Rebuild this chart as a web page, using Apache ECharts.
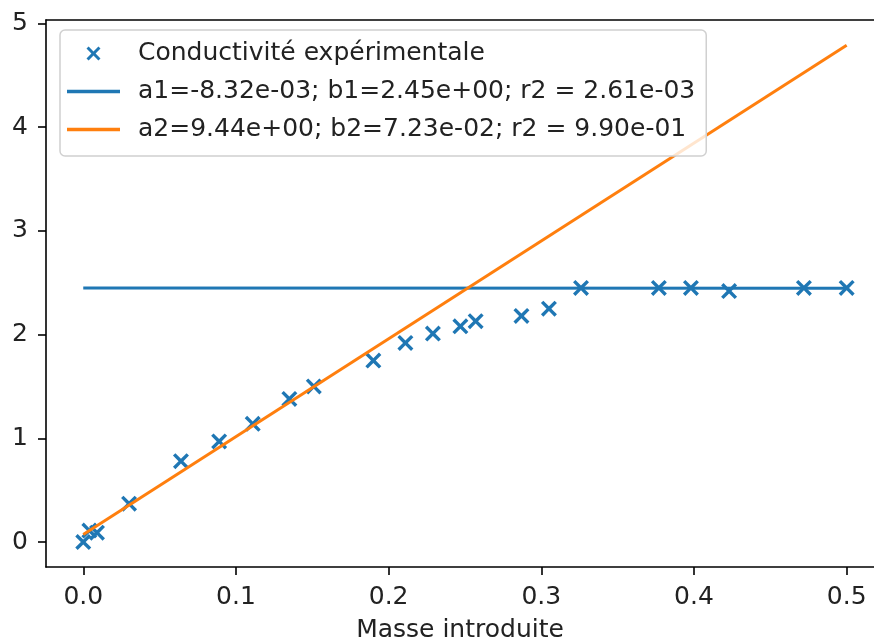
<!DOCTYPE html>
<html>
<head>
<meta charset="utf-8">
<script src="https://cdn.jsdelivr.net/npm/echarts@6/dist/echarts.min.js"></script>
<style>
  html, body { margin: 0; padding: 0; background: #fff; }
  #main { width: 874px; height: 642px; }
</style>
</head>
<body>
<div id="main"></div>
<script>
// measured points (masse, conductivite)
var masse = [0.0, 0.004, 0.009, 0.030, 0.064, 0.089, 0.111, 0.135, 0.151, 0.190, 0.211,
             0.229, 0.247, 0.257, 0.287, 0.305, 0.326, 0.377, 0.398, 0.423, 0.472, 0.500];
var conduct = [0.0, 0.11, 0.09, 0.37, 0.78, 0.97, 1.14, 1.38, 1.50, 1.75, 1.92,
               2.01, 2.08, 2.13, 2.18, 2.25, 2.45, 2.45, 2.45, 2.42, 2.45, 2.45];

// fitted lines, end points
var fitX = [0.0, 0.5];
var fit1Y = [2.45, 2.446];
var fit2Y = [0.072, 4.79];

var xTicks = [0, 0.1, 0.2, 0.3, 0.4, 0.5];
var yTicks = [0, 1, 2, 3, 4, 5];

var names = ['Conductivité expérimentale',
             'a1=-8.32e-03; b1=2.45e+00; r2 = 2.61e-03',
             'a2=9.44e+00; b2=7.23e-02; r2 = 9.90e-01'];

function pairs(xs, ys) {
  var out = [];
  for (var i = 0; i < xs.length; i++) out.push([xs[i], ys[i]]);
  return out;
}

var xMark = 'path://M0,1.5L1.5,0L5,3.5L8.5,0L10,1.5L6.5,5L10,8.5L8.5,10L5,6.5L1.5,10L0,8.5L3.5,5Z';
var lineIcon = 'path://M0,0L53,0L53,3.5L0,3.5Z';
var font = 'DejaVu Sans';
var xMin = -0.0244, xMax = 0.5179;   // the right spine falls outside the picture

var chart = echarts.init(document.getElementById('main'));
var option = {
  animation: false,
  backgroundColor: '#fff',
  grid: { left: 46, top: 20, right: 0, bottom: 75, outerBoundsMode: 'none', containLabel: false },
  legend: {
    orient: 'vertical',
    left: 60, top: 30,
    padding: [11, 11, 14, 7],
    itemGap: 13,
    itemWidth: 53,
    itemHeight: 14,
    backgroundColor: 'rgba(255,255,255,0.8)',
    borderColor: '#d0d0d0',
    borderWidth: 1.5,
    borderRadius: 5,
    textStyle: { fontFamily: font, fontSize: 25, color: '#222', padding: [0, 0, 0, 13] },
    data: [
      { name: names[0] },
      { name: names[1], icon: lineIcon },
      { name: names[2], icon: lineIcon }
    ]
  },
  xAxis: [
    {
      type: 'value',
      min: xMin, max: xMax,
      name: 'Masse introduite',
      nameLocation: 'middle',
      nameGap: 51,
      nameTextStyle: { fontFamily: font, fontSize: 25, color: '#222' },
      axisLine: { onZero: false, lineStyle: { color: '#000', width: 1.6 } },
      axisTick: { show: true, length: 8, lineStyle: { color: '#000', width: 1.6 }, customValues: xTicks },
      axisLabel: {
        fontFamily: font, fontSize: 25, color: '#222', margin: 18,
        customValues: xTicks,
        formatter: function (v) { return v.toFixed(1); }
      },
      splitLine: { show: false }
    },
    {
      type: 'value',
      position: 'top',
      min: xMin, max: xMax,
      axisLine: { show: true, onZero: false, lineStyle: { color: '#000', width: 1.6 } },
      axisTick: { show: false },
      axisLabel: { show: false },
      splitLine: { show: false }
    }
  ],
  yAxis: {
    type: 'value',
    min: -0.241, max: 5.034,
    axisLine: { show: true, onZero: false, lineStyle: { color: '#000', width: 1.6 } },
    axisTick: { show: true, length: 8, lineStyle: { color: '#000', width: 1.6 }, customValues: yTicks },
    axisLabel: {
      fontFamily: font, fontSize: 25, color: '#222', margin: 18,
      customValues: yTicks,
      formatter: function (v) { return String(Math.round(v)); }
    },
    splitLine: { show: false }
  },
  series: [
    {
      name: names[0],
      type: 'scatter',
      symbol: xMark,
      symbolSize: 16,
      itemStyle: { color: '#1f77b4', opacity: 1 },
      data: pairs(masse, conduct)
    },
    {
      name: names[1],
      type: 'line',
      symbol: 'none',
      lineStyle: { color: '#1f77b4', width: 3 },
      itemStyle: { color: '#1f77b4' },
      data: pairs(fitX, fit1Y)
    },
    {
      name: names[2],
      type: 'line',
      symbol: 'none',
      lineStyle: { color: '#ff7f0e', width: 3 },
      itemStyle: { color: '#ff7f0e' },
      data: pairs(fitX, fit2Y)
    }
  ]
};
chart.setOption(option);
</script>
</body>
</html>
